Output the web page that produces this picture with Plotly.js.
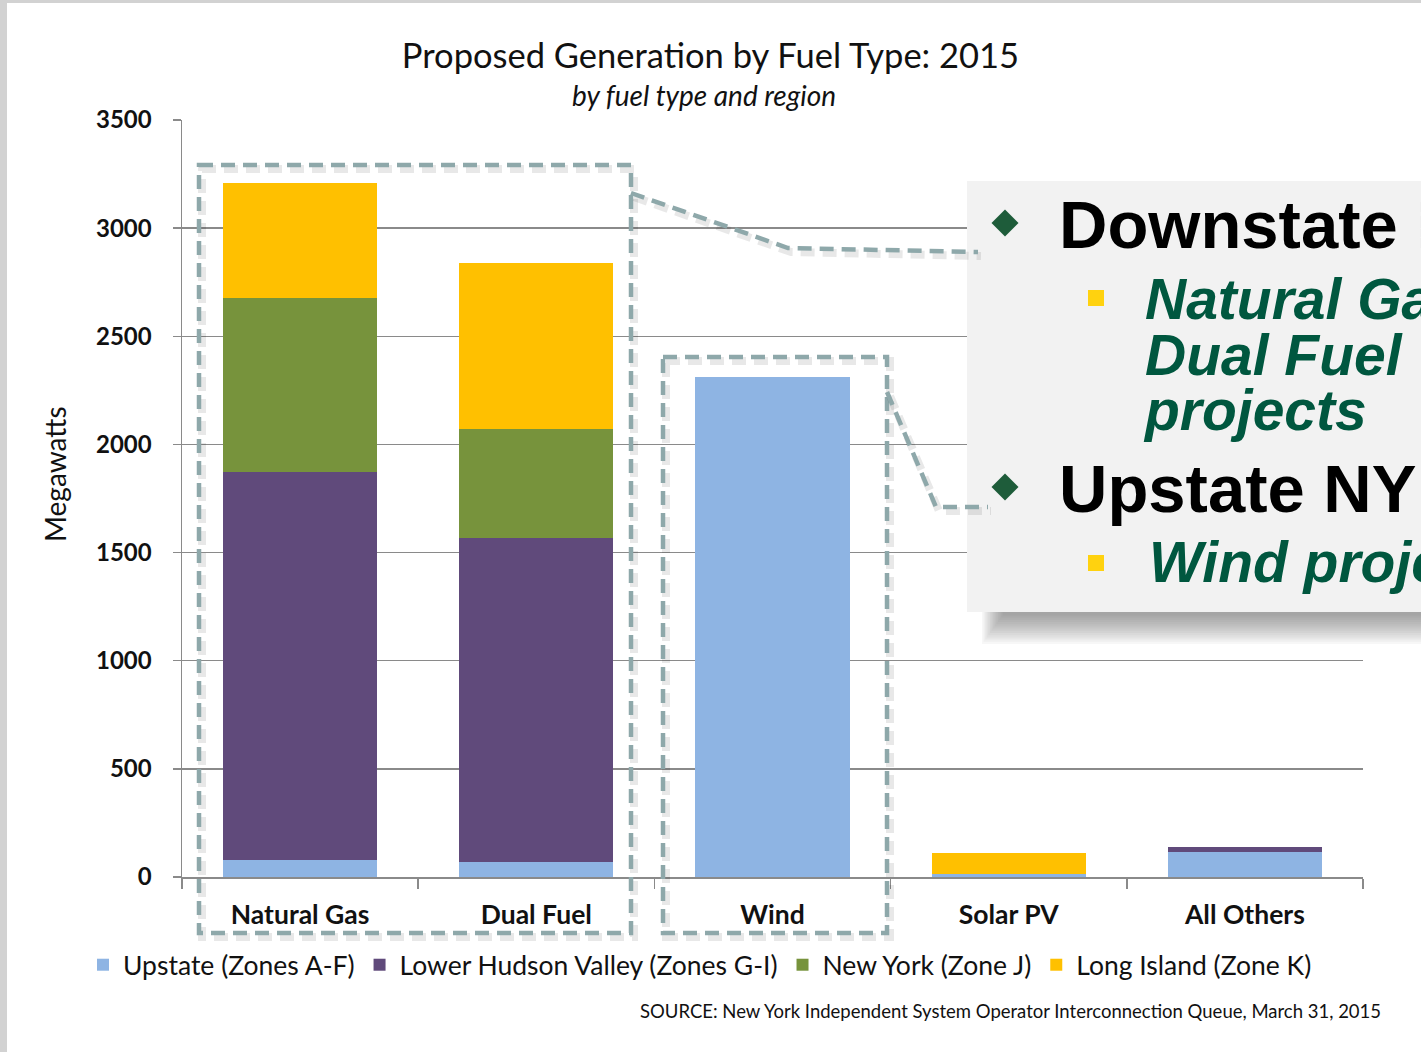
<!DOCTYPE html>
<html><head><meta charset="utf-8">
<script src="https://cdn.plot.ly/plotly-3.0.1.min.js"></script>
<style>html,body{margin:0;padding:0;background:#fff;overflow:hidden;} #chart{width:1421px;height:1052px;}</style>
</head><body><div id="chart"></div>
<script>
// ---- data ----
const categories = ['Natural Gas', 'Dual Fuel', 'Wind', 'Solar PV', 'All Others'];
const upstate     = [79, 71, 2310, 12, 114];
const lowerHudson = [1792, 1498, 0, 0, 25];
const newYorkCity = [807, 502, 0, 0, 0];
const longIsland  = [532, 766, 0, 99, 0];
const seriesNames = ['Upstate (Zones A-F)', 'Lower Hudson Valley (Zones G-I)', 'New York (Zone J)', 'Long Island (Zone K)'];
const seriesColors = ['#8EB4E3', '#604A7B', '#77933C', '#FFC000'];
const yTicks = [0, 500, 1000, 1500, 2000, 2500, 3000, 3500];
const titleText = 'Proposed Generation by Fuel Type: 2015';
const subtitleText = 'by fuel type and region';
const yTitle = 'Megawatts';
const sourceText = 'SOURCE: New York Independent System Operator Interconnection Queue, March 31, 2015';
const calloutLines = ['Downstate NY', 'Natural Gas &', 'Dual Fuel', 'projects', 'Upstate NY', 'Wind projects'];

// ---- layout helpers (pixel -> paper) ----
const W = 1421, H = 1052, ML = 182, MR = 58, MT = 120, MB = 175;
const PW = W - ML - MR, PH = H - MT - MB;
const X = px => (px - ML) / PW;
const Y = py => (H - MB - py) / PH;

const FONT = 'Lato, "Open Sans", sans-serif';
const values = [upstate, lowerHudson, newYorkCity, longIsland];
const traces = values.map((v, i) => ({
  type: 'bar', name: seriesNames[i], x: categories, y: v,
  marker: {color: seriesColors[i], line: {width: 0}},
  hoverinfo: 'x+y+name'
}));

const dashColor = '#8EA8AA';
const shadowColor = 'rgba(0,0,0,0.09)';
function pathPx(pts) {
  return 'M' + pts.map(p => X(p[0]) + ',' + Y(p[1])).join(' L');
}
function dashedPath(pts, closed) {
  const d = pathPx(pts) + (closed ? ' Z' : '');
  const sd = pathPx(pts.map(p => [p[0] + 3, p[1] + 4])) + (closed ? ' Z' : '');
  return [
    {type: 'path', xref: 'paper', yref: 'paper', path: sd, layer: 'above', line: {color: shadowColor, width: 8, dash: '14px,8px'}},
    {type: 'path', xref: 'paper', yref: 'paper', path: d, layer: 'above', line: {color: dashColor, width: 4.5, dash: '14px,8px'}}
  ];
}
function rectPx(x0, y0, x1, y1, fill, layer) {
  return {type: 'rect', xref: 'paper', yref: 'paper', x0: X(x0), x1: X(x1), y0: Y(y1), y1: Y(y0),
    fillcolor: fill, line: {width: 0}, layer: layer || 'above'};
}
function diamond(cx, cy, r, color) {
  return {type: 'path', xref: 'paper', yref: 'paper', layer: 'above',
    path: pathPx([[cx, cy - r], [cx + r, cy], [cx, cy + r], [cx - r, cy]]) + ' Z',
    fillcolor: color, line: {width: 0}};
}

// soft shadow under the callout box (stacked translucent layers)
const shadowLayers = [];
for (let i = 0; i < 14; i++) {
  shadowLayers.push(rectPx(982 + i * 1.6, 600, 1440, 644 - i * 2.2, 'rgba(60,60,60,0.045)'));
}

const shapes = [
  rectPx(0, 0, 7, H, '#d2d2d2', 'below'),
  rectPx(0, 0, W, 3, '#d2d2d2', 'below'),
  ...shadowLayers,
  rectPx(967, 181, 1440, 612, '#F2F2F2'),
  ...dashedPath([[199, 165], [631, 165], [631, 933], [199, 933]], true),
  ...dashedPath([[663, 357], [887, 357], [887, 933], [663, 933]], true),
  ...dashedPath([[631, 193], [788, 248], [978, 252]], false),
  ...dashedPath([[887, 392], [936, 507], [988, 507]], false),
  diamond(1005, 223, 13.5, '#1E5C3A'),
  diamond(1005, 487, 13.5, '#1E5C3A'),
  rectPx(1088, 290, 1104, 306, '#FFD20F'),
  rectPx(1088, 555, 1104, 571, '#FFD20F')
];

const boldBlack = {family: '"Liberation Sans", Arial, sans-serif', size: 67, color: '#000', weight: 'bold'};
const greenItal = {family: '"Liberation Sans", Arial, sans-serif', size: 57, color: '#00573F', weight: 'bold', style: 'italic'};
function ann(text, px, py, font, xanchor, angle) {
  return {text: text, xref: 'paper', yref: 'paper', x: X(px), y: Y(py), xanchor: xanchor || 'left', yanchor: 'middle',
    showarrow: false, font: font, textangle: angle || 0};
}
const annotations = [
  ann(subtitleText, 704, 95, {family: FONT, size: 28, color: '#111', style: 'italic'}, 'center'),
  ann(sourceText, 1383, 1011, {family: FONT, size: 18.5, color: '#111'}, 'right'),
  ann(yTitle, 55, 474, {family: FONT, size: 28, color: '#111'}, 'center', -90),
  ann(calloutLines[0], 1057, 225, boldBlack),
  ann(calloutLines[1], 1143, 299, greenItal),
  ann(calloutLines[2], 1143, 355, greenItal),
  ann(calloutLines[3], 1141, 410, greenItal),
  ann(calloutLines[4], 1057, 489, boldBlack),
  ann(calloutLines[5], 1147, 562, greenItal)
];

const layout = {
  width: W, height: H,
  margin: {l: ML, r: MR, t: MT, b: MB},
  paper_bgcolor: '#fff', plot_bgcolor: '#fff',
  barmode: 'stack', bargap: 0.347,
  font: {family: FONT, color: '#111'},
  title: {text: titleText, font: {family: FONT, size: 34.5, color: '#111'}, x: 0.5, xref: 'container', xanchor: 'center',
    y: 1 - 56 / H, yref: 'container', yanchor: 'middle'},
  xaxis: {type: 'category', showline: true, linecolor: '#8a8a8a', linewidth: 1.5, ticks: 'outside', tickson: 'boundaries',
    ticklen: 10, tickcolor: '#8a8a8a', tickwidth: 1.5, showgrid: false, ticklabelstandoff: 14,
    tickfont: {family: FONT, size: 26.5, color: '#111', weight: 'bold'}, fixedrange: true},
  yaxis: {range: [0, 3500], tickvals: yTicks, ticktext: yTicks.map(String), showline: true, linecolor: '#8a8a8a', linewidth: 1.5,
    ticks: 'outside', ticklen: 8, tickcolor: '#8a8a8a', tickwidth: 1.5, showgrid: true, gridcolor: '#8a8a8a', gridwidth: 1.5,
    zeroline: false, ticklabelstandoff: 16, tickfont: {family: FONT, size: 24, color: '#111', weight: 'bold'},
    fixedrange: true},
  legend: {orientation: 'h', x: X(83), xanchor: 'left', y: Y(965), yanchor: 'middle', traceorder: 'normal',
    font: {family: FONT, size: 26.5, color: '#111'}, itemwidth: 30, bgcolor: 'rgba(0,0,0,0)'},
  shapes: shapes,
  annotations: annotations,
  showlegend: true
};

Plotly.newPlot('chart', traces, layout, {displayModeBar: false, staticPlot: true});
</script>
</body></html>
